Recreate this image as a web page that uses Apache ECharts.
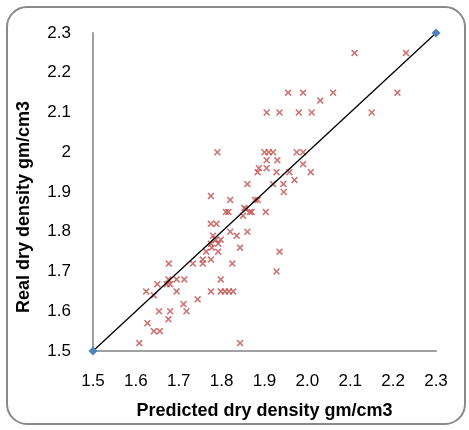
<!DOCTYPE html>
<html><head><meta charset="utf-8">
<script src="https://cdn.jsdelivr.net/npm/echarts@6/dist/echarts.min.js"></script>
<style>html,body{margin:0;padding:0;background:#fff}#c{width:469px;height:430px}</style>
</head><body><div id="c"></div>
<script>
const xTicks = [1.5,1.6,1.7,1.8,1.9,2.0,2.1,2.2,2.3];
const xTitle = 'Predicted dry density gm/cm3';
const yTitle = 'Real dry density gm/cm3';
const predicted = [2.11,2.23,1.955,1.99,2.03,2.06,2.21,1.905,1.935,1.98,2.01,2.15,1.79,1.90,1.91,1.92,1.975,1.99,1.905,1.93,1.887,1.905,1.99,1.884,1.928,1.958,2.008,1.97,1.86,1.92,1.944,1.945,1.775,1.82,1.853,1.856,1.878,1.884,1.81,1.816,1.85,1.866,1.87,1.903,1.775,1.788,1.82,1.86,1.78,1.835,1.775,1.792,1.798,1.786,1.777,1.843,1.764,1.792,1.775,1.756,1.756,1.733,1.677,1.825,1.935,1.928,1.676,1.65,1.672,1.68,1.695,1.713,1.798,1.624,1.642,1.695,1.775,1.798,1.808,1.817,1.827,1.744,1.711,1.654,1.68,1.718,1.676,1.627,1.642,1.656,1.608,1.843];
const real = [2.25,2.25,2.15,2.15,2.13,2.15,2.15,2.1,2.1,2.1,2.1,2.1,2.0,2.0,2.0,2.0,2.0,2.0,1.98,1.98,1.96,1.96,1.97,1.95,1.95,1.95,1.95,1.93,1.92,1.92,1.92,1.90,1.89,1.88,1.86,1.857,1.88,1.88,1.85,1.85,1.84,1.85,1.85,1.85,1.82,1.82,1.80,1.80,1.79,1.79,1.77,1.77,1.78,1.78,1.76,1.76,1.75,1.75,1.73,1.73,1.72,1.72,1.72,1.72,1.75,1.70,1.68,1.668,1.668,1.668,1.68,1.68,1.68,1.65,1.64,1.65,1.65,1.65,1.65,1.65,1.65,1.63,1.618,1.60,1.60,1.60,1.58,1.57,1.55,1.55,1.52,1.52];
const lineX = [1.5,2.3];
const lineY = [1.5,2.3];

const chart = echarts.init(document.getElementById('c'), null, {renderer:'canvas'});
const xSym = 'path://M0,1.6 L1.6,0 L5,3.4 L8.4,0 L10,1.6 L6.6,5 L10,8.4 L8.4,10 L5,6.6 L1.6,10 L0,8.4 L3.4,5 Z';
chart.setOption({
  animation:false,
  backgroundColor:'#fff',
  graphic:[
    {type:'rect',shape:{x:7,y:7,width:458,height:417,r:20},style:{fill:'none',stroke:'#8a8a8a',lineWidth:2},z:-1},
    {type:'text',x:24,y:207,rotation:Math.PI/2,style:{text:yTitle,align:'center',verticalAlign:'middle',fill:'#000',font:'bold 18px "Liberation Sans", Arial'}}
  ],
  grid:{left:93,right:33,top:33,bottom:79},
  xAxis:{type:'value',min:1.5,max:2.3,interval:0.1,
    axisLine:{show:true,lineStyle:{color:'#a0a0a0',width:2}},axisTick:{show:false},splitLine:{show:false},
    axisLabel:{margin:22,color:'#000',fontSize:17,fontFamily:'Liberation Sans, Arial',formatter:v=>v.toFixed(1)},
    name:xTitle,nameLocation:'middle',nameGap:51,
    nameTextStyle:{color:'#000',fontSize:18,fontWeight:'bold',fontFamily:'Liberation Sans, Arial'}},
  yAxis:{type:'value',min:1.5,max:2.3,interval:0.1,
    axisLine:{show:true,lineStyle:{color:'#a0a0a0',width:2}},axisTick:{show:false},splitLine:{show:false},
    axisLabel:{margin:22,color:'#000',fontSize:17,fontFamily:'Liberation Sans, Arial',formatter:v=>String(Math.round(v*10)/10)}},
  series:[
    {type:'scatter',data:predicted.map((x,i)=>[x,real[i]]),symbol:xSym,symbolSize:7,itemStyle:{color:'#C0504D'}},
    {type:'line',data:lineX.map((x,i)=>[x,lineY[i]]),symbol:'diamond',symbolSize:9,showSymbol:true,
      lineStyle:{color:'#000',width:1.3},itemStyle:{color:'#4F81BD'},z:3}
  ]
});
</script></body></html>
